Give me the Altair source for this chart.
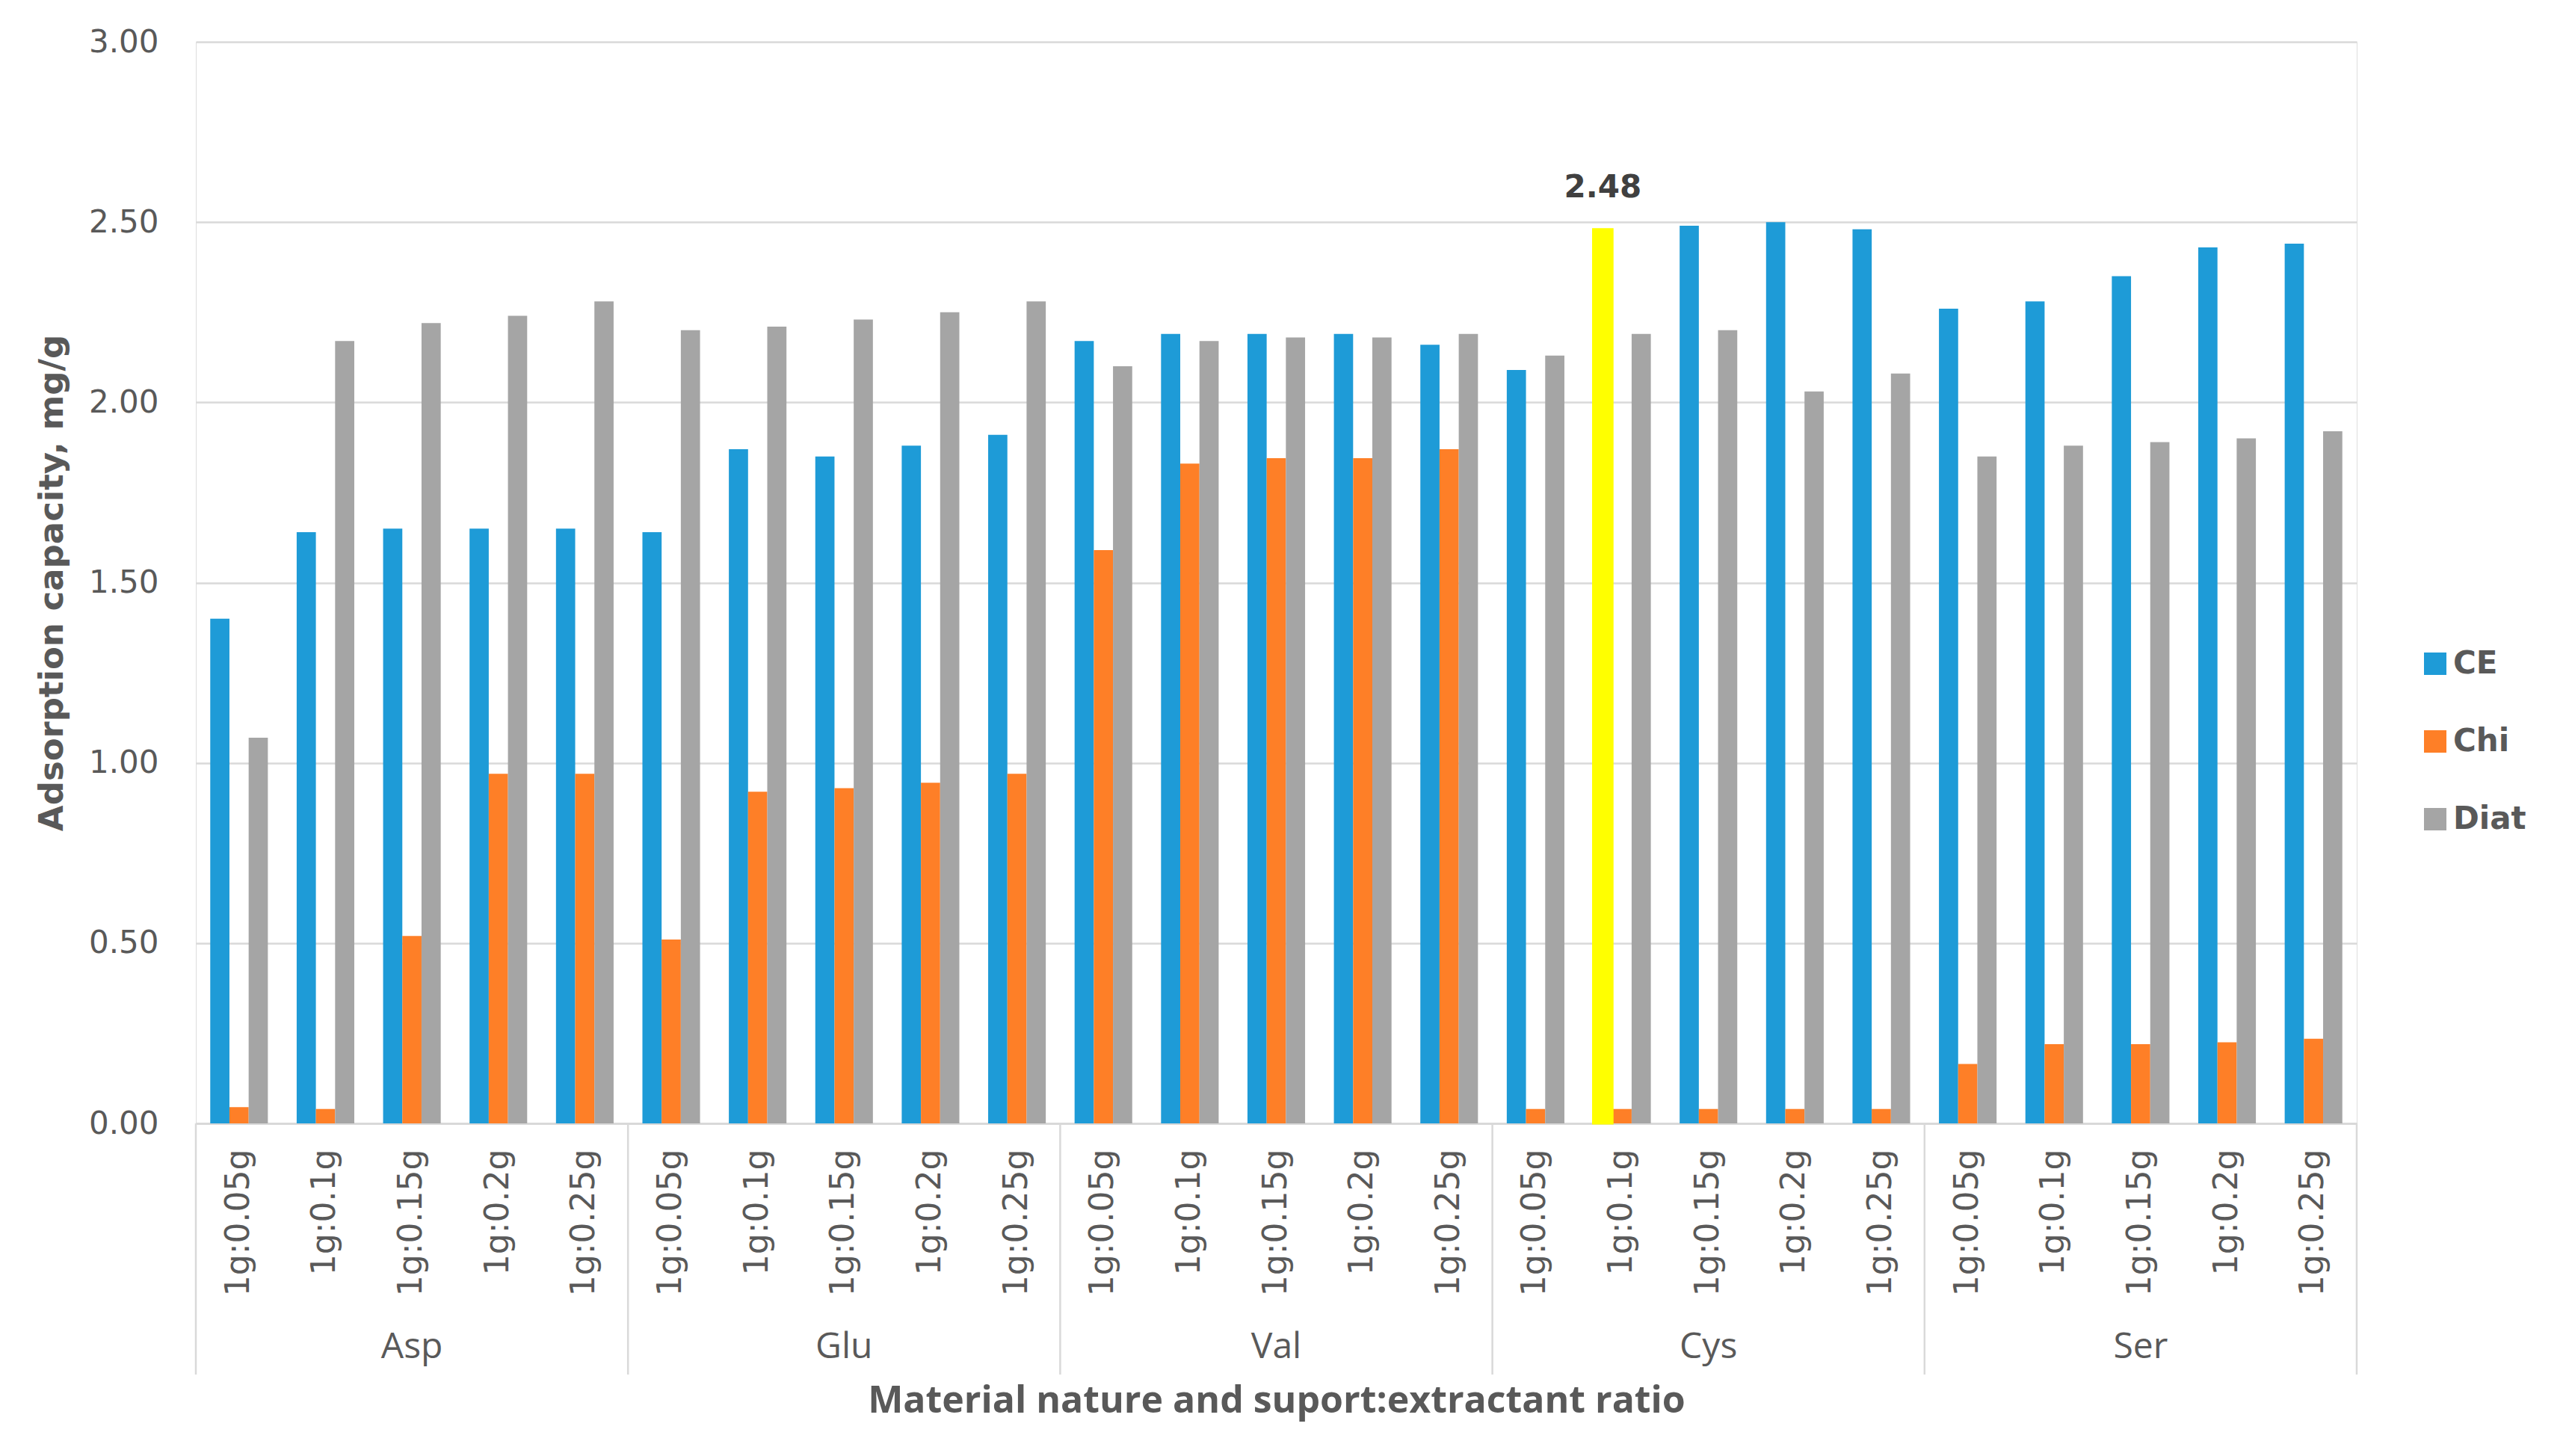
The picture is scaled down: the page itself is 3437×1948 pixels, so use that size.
import altair as alt
import pandas as pd

groups = ["Asp", "Glu", "Val", "Cys", "Ser"]
ratios = ["1g:0.05g", "1g:0.1g", "1g:0.15g", "1g:0.2g", "1g:0.25g"]
series = ["CE", "Chi", "Diat"]
ce = [1.40, 1.64, 1.65, 1.65, 1.65,
      1.64, 1.87, 1.85, 1.88, 1.91,
      2.17, 2.19, 2.19, 2.19, 2.16,
      2.09, 2.48, 2.49, 2.50, 2.48,
      2.26, 2.28, 2.35, 2.43, 2.44]
chi = [0.045, 0.04, 0.52, 0.97, 0.97,
       0.51, 0.92, 0.93, 0.945, 0.97,
       1.59, 1.83, 1.845, 1.845, 1.87,
       0.04, 0.04, 0.04, 0.04, 0.04,
       0.165, 0.22, 0.22, 0.225, 0.235]
diat = [1.07, 2.17, 2.22, 2.24, 2.28,
        2.20, 2.21, 2.23, 2.25, 2.28,
        2.10, 2.17, 2.18, 2.18, 2.19,
        2.13, 2.19, 2.20, 2.03, 2.08,
        1.85, 1.88, 1.89, 1.90, 1.92]
colors = ["#1E9BD7", "#FE7F27", "#A5A5A5"]
highlight = ("Cys", "1g:0.1g", "CE")
highlight_label = "2.48"
y_ticks = [0, 0.5, 1.0, 1.5, 2.0, 2.5, 3.0]

W, H = 2891, 1447
GRID = "#D9D9D9"
TXT = "#595959"

keys = [f"{g}|{r}" for g in groups for r in ratios]
rows = []
for i, k in enumerate(keys):
    for s, vals in zip(series, [ce, chi, diat]):
        rows.append({"key": k, "series": s, "value": vals[i]})
df = pd.DataFrame(rows)
hkey = f"{highlight[0]}|{highlight[1]}"
hdf = df[(df.key == hkey) & (df.series == highlight[2])].copy()
hdf["label"] = highlight_label

xscale = alt.Scale(paddingInner=0, paddingOuter=0)
xaxis = alt.Axis(labelExpr="split(datum.label, '|')[1]", labelAngle=-90,
                 labelFont="DejaVu Sans", labelFontSize=44, labelColor=TXT,
                 labelPadding=34, labelLimit=0, ticks=False, domainColor=GRID, domainWidth=3,
                 grid=False, labelOverlap=False,
                 title="Material nature and suport:extractant ratio",
                 titleFont="Open Sans", titleFontWeight="bold", titleFontSize=50,
                 titleColor=TXT, titlePadding=146)
xoff = alt.XOffset("series:N", scale=alt.Scale(domain=series, paddingInner=0, paddingOuter=0.75))
yscale = alt.Scale(domain=[0, 3], nice=False)

bars = alt.Chart(df).mark_bar().encode(
    x=alt.X("key:N", sort=keys, scale=xscale, axis=xaxis),
    xOffset=xoff,
    y=alt.Y("value:Q", scale=yscale,
            axis=alt.Axis(values=y_ticks, format=".2f", labelFont="DejaVu Sans",
                          labelFontSize=42, labelColor=TXT, labelPadding=50,
                          ticks=False, domain=False, gridColor=GRID, gridWidth=2.5,
                          title="Adsorption capacity, mg/g", titleFont="DejaVu Sans",
                          titleFontWeight="bold", titleFontSize=45, titleColor=TXT,
                          titlePadding=26)),
    color=alt.Color("series:N", scale=alt.Scale(domain=series, range=colors),
                    legend=alt.Legend(title=None, orient="none", legendX=2975, legendY=811,
                                      symbolType="square", symbolSize=900, symbolStrokeWidth=0,
                                      labelFont="DejaVu Sans", labelFontWeight="bold",
                                      labelFontSize=42, labelColor=TXT, labelOffset=3,
                                      rowPadding=62, padding=0)),
)

hbar = alt.Chart(hdf).mark_bar(color="#FFFF00", stroke="#FFFF00", strokeWidth=3).encode(
    x=alt.X("key:N", sort=keys, scale=xscale),
    xOffset=xoff,
    y=alt.Y("value:Q", scale=yscale),
)
hlabel = alt.Chart(hdf).mark_text(font="DejaVu Sans", fontWeight="bold", fontSize=42,
                                  color="#404040", baseline="middle", dy=-56).encode(
    x=alt.X("key:N", sort=keys, scale=xscale),
    xOffset=xoff,
    y=alt.Y("value:Q", scale=yscale),
    text="label:N",
)

starts = pd.DataFrame({"key": [f"{g}|{ratios[0]}" for g in groups]})
ends = pd.DataFrame({"key": [f"{groups[-1]}|{ratios[-1]}"]})
mids = pd.DataFrame({"key": [f"{g}|{ratios[2]}" for g in groups], "group": groups})

sep1 = alt.Chart(starts).mark_rule(color=GRID, strokeWidth=2.5).encode(
    x=alt.X("key:N", sort=keys, scale=xscale, bandPosition=0),
    y=alt.value(H), y2=alt.value(H + 336),
)
sep2 = alt.Chart(ends).mark_rule(color=GRID, strokeWidth=2.5).encode(
    x=alt.X("key:N", sort=keys, scale=xscale, bandPosition=1),
    y=alt.value(H), y2=alt.value(H + 336),
)
glabels = alt.Chart(mids).mark_text(font="Open Sans", fontSize=48, color=TXT,
                                    baseline="middle").encode(
    x=alt.X("key:N", sort=keys, scale=xscale),
    y=alt.value(H + 300),
    text="group:N",
)

chart = alt.layer(bars, hbar, hlabel, sep1, sep2, glabels).properties(
    width=W, height=H,
    autosize=alt.AutoSizeParams(type="none"),
    padding={"left": 254, "top": 48, "right": 270, "bottom": 420},
).configure_view(stroke=None).configure(background="white")

chart.save("out.html", embed_options={"renderer": "svg", "actions": False})
